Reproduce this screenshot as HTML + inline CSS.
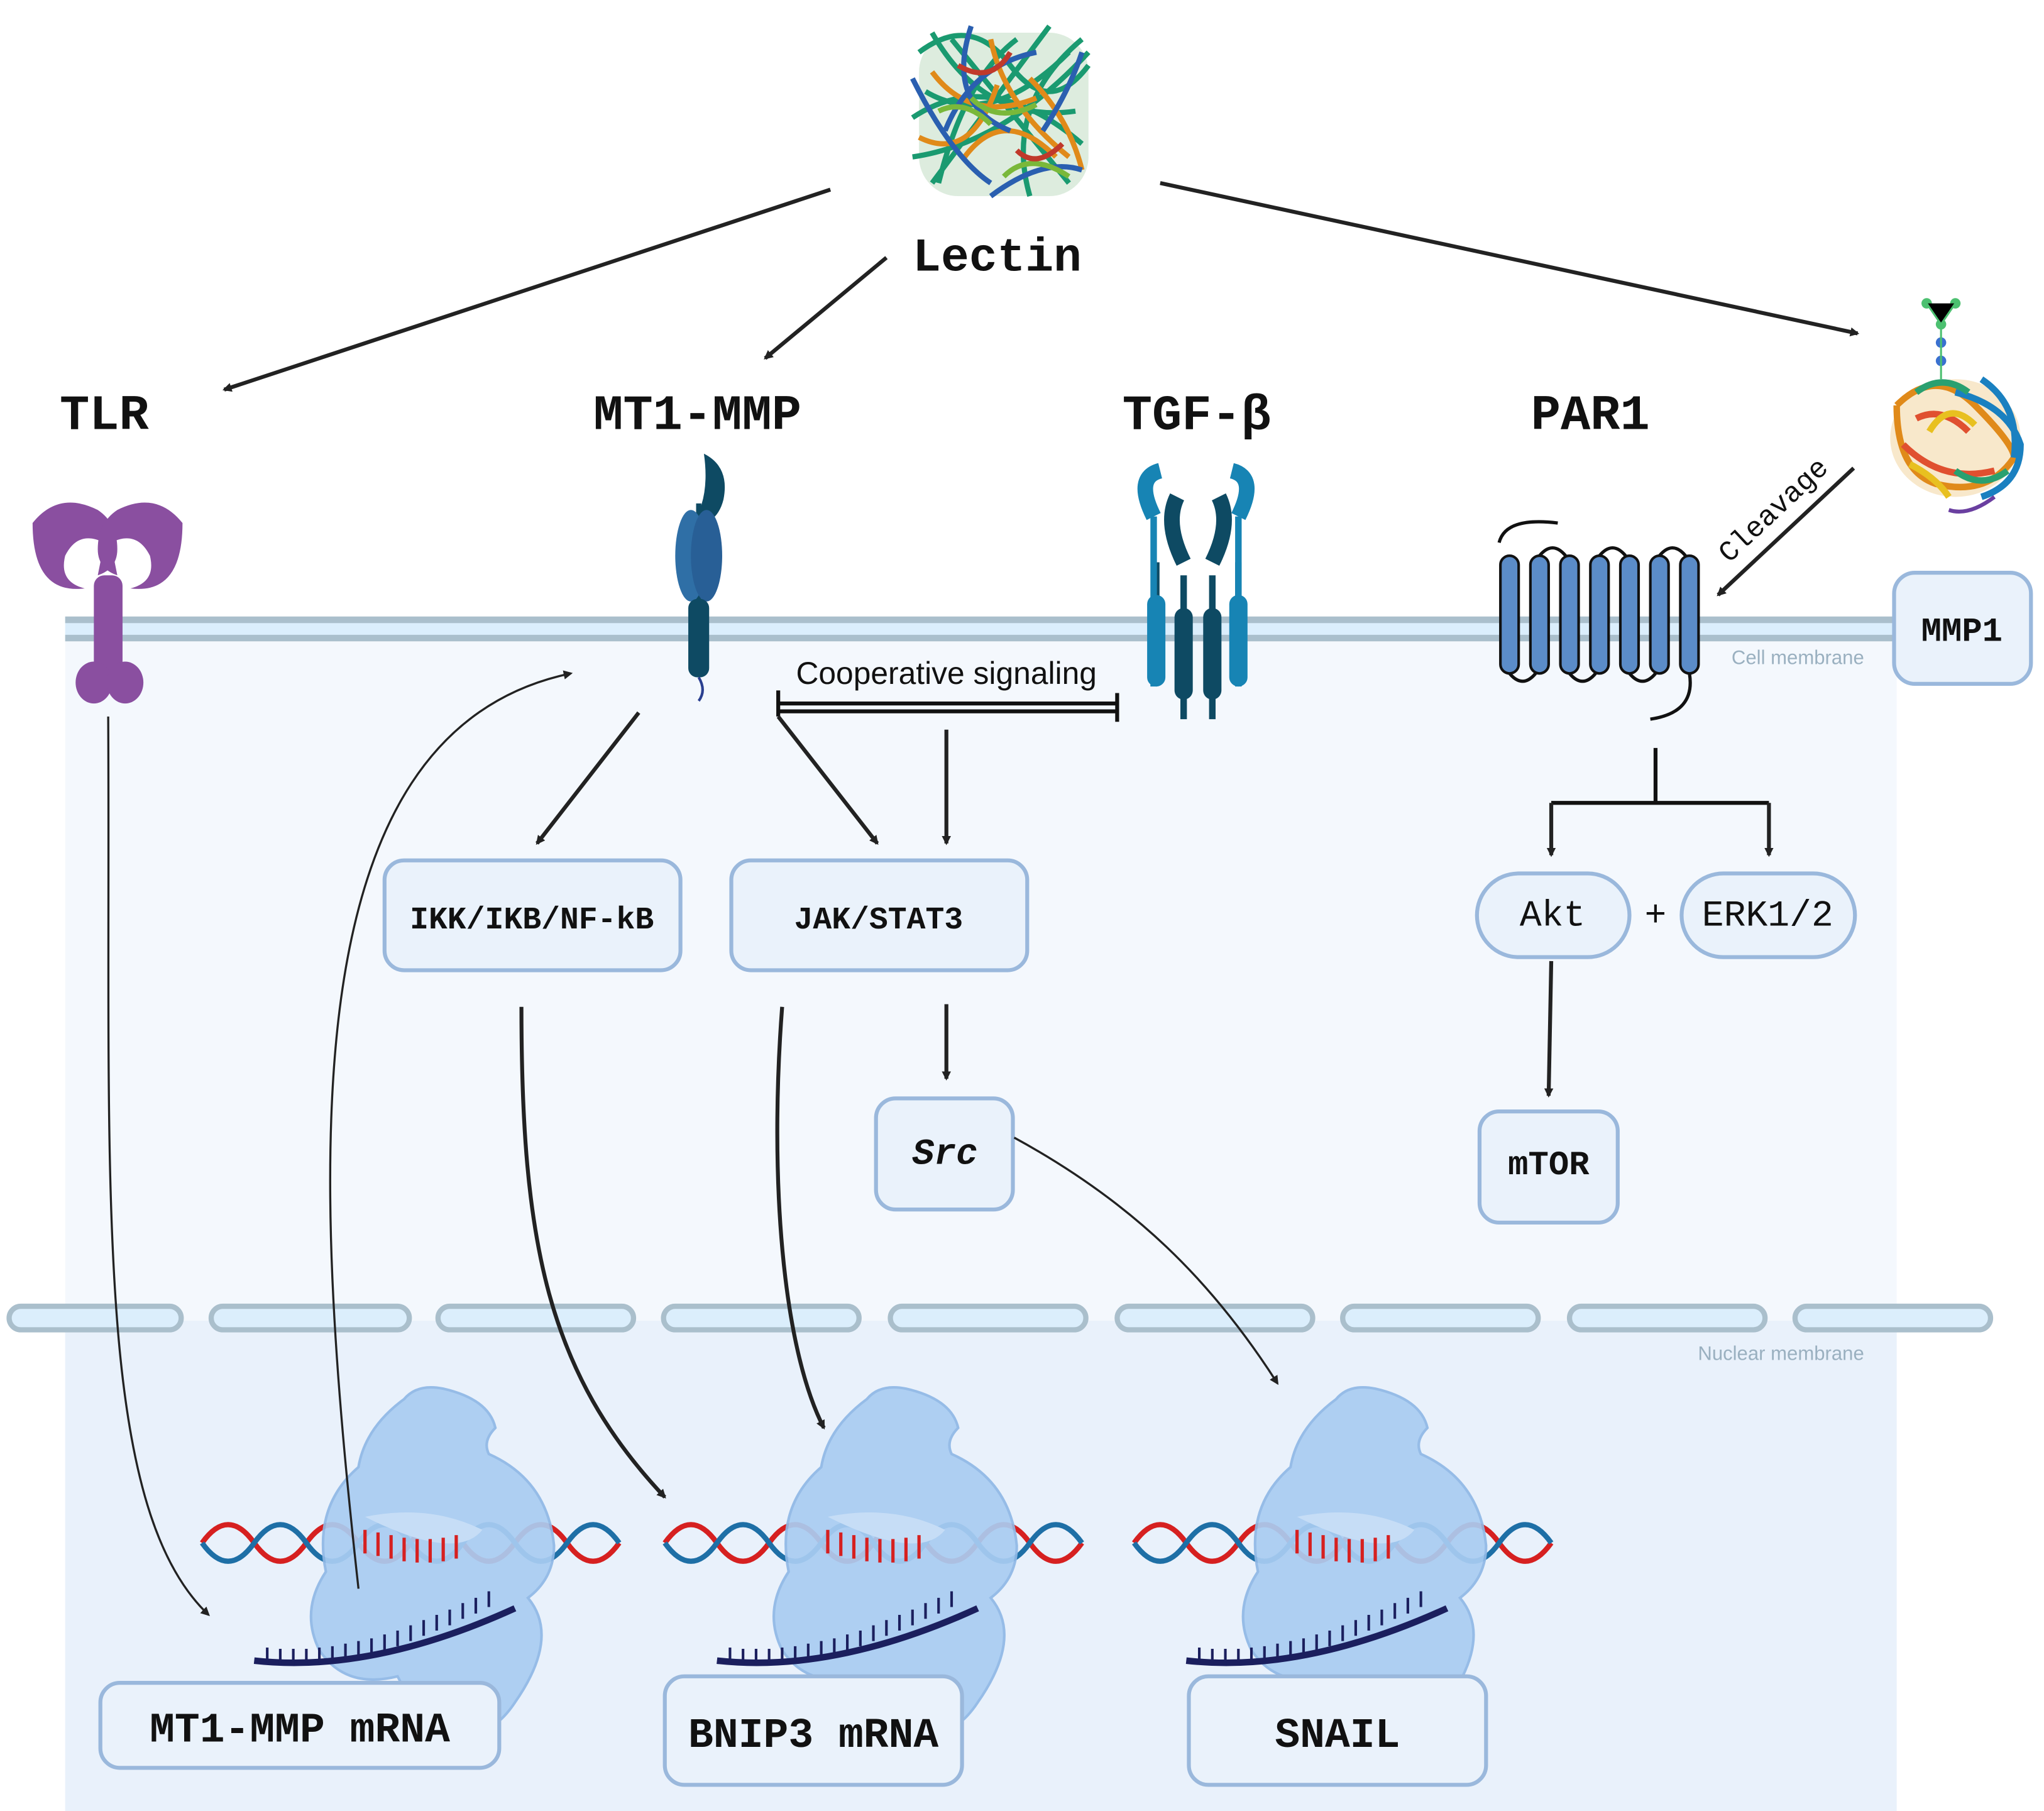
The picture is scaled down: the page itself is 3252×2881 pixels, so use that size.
<!DOCTYPE html>
<html><head><meta charset="utf-8"><style>
html,body{margin:0;padding:0;background:#fff}
svg{display:block}
.box{fill:#eaf2fb;stroke:#9ab8dc;stroke-width:3}
.bt{font-family:"Liberation Mono",monospace;font-weight:bold;fill:#111;text-anchor:middle}
.ar{stroke:#222;stroke-width:3;fill:none;marker-end:url(#ah)}
.th{stroke:#222;stroke-width:1.6;fill:none;marker-end:url(#ah)}
</style></head><body>
<svg width="3252" height="2881" viewBox="0 0 1568 1385" preserveAspectRatio="none" xmlns="http://www.w3.org/2000/svg">
<defs>
<marker id="ah" viewBox="0 0 10 10" refX="8" refY="5" markerWidth="7" markerHeight="7" markerUnits="userSpaceOnUse" orient="auto">
<path d="M0,0 L10,5 L0,10 z" fill="#222"/></marker>
<marker id="ah2" viewBox="0 0 10 10" refX="8" refY="5" markerWidth="20" markerHeight="20" markerUnits="userSpaceOnUse" orient="auto">
<path d="M0,0 L10,5 L0,10 z" fill="#222"/></marker>
<g id="ribo">
<path d="M-165,0 q20,-28 40,0 t40,0 t40,0 t40,0 t40,0 t40,0 t40,0 t40,0" stroke="#d62020" stroke-width="4" fill="none"/>
<path d="M-165,0 q20,28 40,0 t40,0 t40,0 t40,0 t40,0 t40,0 t40,0 t40,0" stroke="#1e6fa6" stroke-width="4" fill="none"/>
<path d="M-10,-110 q10,-12 30,-8 q35,8 40,30 q-10,10 -5,20 q45,20 50,70 q0,25 -20,40 q25,30 -10,80 q-20,30 -45,20 q-30,-10 -45,-40 q-40,10 -60,-20 q-15,-30 5,-60 q-10,-50 25,-80 q5,-30 35,-52z" fill="#a9cdf2" stroke="#8fb8e6" stroke-width="2" opacity="0.92"/>
<path d="M-40,-20 q50,-10 90,10 q-20,25 -90,-10z" fill="#c6ddf6"/>
<path d="M-125,90 q90,10 200,-40" stroke="#1b1f5e" stroke-width="5" fill="none"/>
<path d="M-115,92 v-12 M-105,93 v-12 M-95,93 v-12 M-85,93 v-12 M-75,92 v-12 M-65,91 v-12 M-55,89 v-12 M-45,87 v-12 M-35,85 v-12 M-25,82 v-12 M-15,79 v-12 M-5,75 v-12 M5,71 v-12 M15,67 v-12 M25,63 v-12 M35,58 v-12 M45,54 v-12 M55,49 v-12" stroke="#1b1f5e" stroke-width="2"/>
<path d="M-40,-10 v18 M-30,-8 v18 M-20,-6 v18 M-10,-4 v18 M0,-3 v18 M10,-3 v18 M20,-4 v18 M30,-6 v18" stroke="#d62020" stroke-width="2.5"/>
</g>
</defs>
<rect x="50" y="480" width="1405" height="905" fill="#f4f8fd"/>
<rect x="50" y="1010" width="1405" height="375" fill="#e9f1fb"/>
<rect x="50" y="472" width="1405" height="18" fill="#dbeefc"/>
<line x1="50" y1="474" x2="1455" y2="474" stroke="#aabfcc" stroke-width="5"/>
<line x1="50" y1="488" x2="1455" y2="488" stroke="#aabfcc" stroke-width="5"/>
<text x="1430" y="508" font-family="Liberation Sans,sans-serif" font-size="15" fill="#9ab0c0" text-anchor="end">Cell membrane</text>
<g fill="#dbeefc" stroke="#aabfcc" stroke-width="4">
<rect x="7" y="999" width="132" height="18" rx="9"/><rect x="162" y="999" width="152" height="18" rx="9"/><rect x="336" y="999" width="150" height="18" rx="9"/><rect x="509" y="999" width="150" height="18" rx="9"/><rect x="683" y="999" width="150" height="18" rx="9"/><rect x="857" y="999" width="150" height="18" rx="9"/><rect x="1030" y="999" width="150" height="18" rx="9"/><rect x="1204" y="999" width="150" height="18" rx="9"/><rect x="1377" y="999" width="150" height="18" rx="9"/>
</g>
<text x="1430" y="1040" font-family="Liberation Sans,sans-serif" font-size="15" fill="#9ab0c0" text-anchor="end">Nuclear membrane</text>
<!-- lectin -->
<rect x="705" y="25" width="130" height="125" rx="30" fill="#c7e0c8" opacity="0.6"/>
<g stroke-width="4" fill="none">
<path d="M705,40 q40,-30 70,10 t60,0 M700,90 q60,-40 130,20 M720,140 q20,-80 60,-110 M790,150 q-20,-70 40,-120 M710,70 q50,30 110,-30 M730,30 l90,110 M805,20 l-90,120 M700,120 q70,-10 135,-80 M715,25 q40,70 110,60" stroke="#1a9a70"/>
<path d="M715,55 q30,40 80,20 M740,120 q30,-40 70,0 M760,30 q10,50 60,90 M705,105 q40,20 60,-40 M790,60 q30,30 40,70" stroke="#e08a1a"/>
<path d="M725,100 q20,-50 70,-60 M700,60 q30,60 60,80 M800,100 q20,-30 30,-60 M745,20 q-20,60 30,80 M760,150 q40,-30 70,-20" stroke="#2a5fb0"/>
<path d="M745,75 q20,20 50,5 M770,135 q20,-20 50,0 M720,85 q20,-10 40,10" stroke="#7ab83a"/>
<path d="M735,50 q25,15 40,-10 M780,115 q15,15 35,-5" stroke="#c0392b"/>
</g>
<text x="765" y="207" class="bt" font-size="36">Lectin</text>
<line x1="637" y1="145" x2="172" y2="298" class="ar" marker-end="url(#ah2)"/>
<line x1="680" y1="197" x2="587" y2="274" class="ar" marker-end="url(#ah2)"/>
<line x1="890" y1="140" x2="1425" y2="255" class="ar" marker-end="url(#ah2)"/>
<text x="80" y="328" class="bt" font-size="38">TLR</text>
<text x="535" y="328" class="bt" font-size="38">MT1-MMP</text>
<text x="918" y="328" class="bt" font-size="38">TGF-β</text>
<text x="1220" y="328" class="bt" font-size="38">PAR1</text>
<g fill="#8a4fa0">
<path d="M25,400 q20,-25 50,-10 q15,10 15,30 q0,15 -15,20 l5,-25 q-20,-10 -30,10 q-5,20 15,25 q-40,5 -40,-50z"/>
<path d="M140,400 q-20,-25 -50,-10 q-15,10 -15,30 q0,15 15,20 l-5,-25 q20,-10 30,10 q5,20 -15,25 q40,5 40,-50z"/>
<rect x="72" y="440" width="22" height="80" rx="8"/>
<ellipse cx="72" cy="522" rx="14" ry="16"/><ellipse cx="96" cy="522" rx="14" ry="16"/>
</g>
<path d="M540,347 q20,10 15,35 q-5,20 -25,20 q15,-20 10,-55z" fill="#0e4a63"/>
<line x1="536" y1="385" x2="536" y2="470" stroke="#0e4a63" stroke-width="4"/>
<ellipse cx="530" cy="425" rx="12" ry="35" fill="#2f6fa6"/><ellipse cx="542" cy="425" rx="12" ry="35" fill="#285f96"/>
<rect x="528" y="458" width="16" height="60" rx="7" fill="#0e4a63"/>
<path d="M536,518 q6,10 0,18" stroke="#2a3f90" stroke-width="2" fill="none"/>
<g stroke-width="5" fill="none">
<path d="M887,430 v90 M908,440 v110 M930,440 v110 M950,430 v90" stroke="#0e4a63"/>
<path d="M885,395 v130 M950,395 v130" stroke="#1784b4"/>
<path d="M885,395 q-15,-30 5,-35 M950,395 q15,-30 -5,-35" stroke="#1784b4" stroke-width="12"/>
<path d="M908,430 q-15,-30 -5,-50 M930,430 q15,-30 5,-50" stroke="#0e4a63" stroke-width="12"/>
</g>
<rect x="880" y="455" width="14" height="70" rx="7" fill="#1784b4"/><rect x="943" y="455" width="14" height="70" rx="7" fill="#1784b4"/>
<rect x="901" y="465" width="14" height="70" rx="7" fill="#0e4a63"/><rect x="923" y="465" width="14" height="70" rx="7" fill="#0e4a63"/>
<g fill="#5b8cc8" stroke="#111" stroke-width="2">
<rect x="1151" y="425" width="14" height="90" rx="7"/><rect x="1174" y="425" width="14" height="90" rx="7"/><rect x="1197" y="425" width="14" height="90" rx="7"/><rect x="1220" y="425" width="14" height="90" rx="7"/><rect x="1243" y="425" width="14" height="90" rx="7"/><rect x="1266" y="425" width="14" height="90" rx="7"/><rect x="1289" y="425" width="14" height="90" rx="7"/>
</g>
<path d="M1150,415 q5,-20 45,-15 M1158,515 q10,12 20,0 M1204,515 q10,12 20,0 M1250,515 q10,12 20,0 M1181,425 q10,-12 20,0 M1227,425 q10,-12 20,0 M1273,425 q10,-12 20,0 M1296,515 q5,30 -30,35" stroke="#111" stroke-width="2.5" fill="none"/>
<!-- MMP1 protein -->
<ellipse cx="1500" cy="335" rx="50" ry="45" fill="#f3d9a8" opacity="0.6"/>
<g fill="none" stroke-width="5">
<path d="M1455,310 q30,-30 60,0 t30,40 q-20,30 -60,20 q-30,-10 -30,-60" stroke="#e08a1a"/>
<path d="M1500,300 q40,10 50,40 q0,30 -30,40 M1520,290 q30,20 25,60" stroke="#1a80c0"/>
<path d="M1460,340 q30,30 70,20 M1470,320 q20,-10 40,10" stroke="#e05030"/>
<path d="M1470,300 q20,-15 40,0 M1500,360 q20,15 40,0" stroke="#2aa070"/>
<path d="M1480,330 q15,-25 35,-5 M1465,355 q20,10 30,25" stroke="#e8c020"/>
<path d="M1530,380 q-20,15 -35,10" stroke="#6a3fa0" stroke-width="3"/>
</g>
<g fill="#4cc070"><circle cx="1478" cy="232" r="4"/><circle cx="1500" cy="232" r="4"/><circle cx="1489" cy="248" r="4"/><circle cx="1489" cy="262" r="4" fill="#3a70d0"/><circle cx="1489" cy="276" r="4" fill="#3a70d0"/></g>
<path d="M1478,232 L1489,248 L1500,232 M1489,248 V290" stroke="#4cc070" stroke-width="1.5"/>
<line x1="1422" y1="358" x2="1318" y2="455" class="ar" marker-end="url(#ah2)"/>
<text x="1365" y="395" font-family="Liberation Mono,monospace" font-size="22" fill="#111" transform="rotate(-43 1365 395)" text-anchor="middle">Cleavage</text>
<rect x="1453" y="438" width="105" height="85" rx="16" class="box"/>
<text x="1505" y="490" class="bt" font-size="26">MMP1</text>
<text x="726" y="523" font-family="Liberation Sans,sans-serif" font-size="24" fill="#111" text-anchor="middle">Cooperative signaling</text>
<line x1="597" y1="538" x2="857" y2="538" stroke="#111" stroke-width="3"/>
<line x1="597" y1="544" x2="857" y2="544" stroke="#111" stroke-width="3"/>
<line x1="597" y1="528" x2="597" y2="548" stroke="#111" stroke-width="3"/>
<line x1="857" y1="530" x2="857" y2="552" stroke="#111" stroke-width="3"/>
<line x1="490" y1="545" x2="412" y2="645" class="ar" marker-end="url(#ah2)"/>
<line x1="597" y1="548" x2="673" y2="645" class="ar" marker-end="url(#ah2)"/>
<line x1="726" y1="558" x2="726" y2="645" class="ar" marker-end="url(#ah2)"/>
<line x1="726" y1="768" x2="726" y2="825" class="ar" marker-end="url(#ah2)"/>
<path d="M1270,572 v42 M1190,614 h167" stroke="#111" stroke-width="3" fill="none"/>
<line x1="1190" y1="614" x2="1190" y2="654" class="ar" marker-end="url(#ah2)"/>
<line x1="1357" y1="614" x2="1357" y2="654" class="ar" marker-end="url(#ah2)"/>
<line x1="1190" y1="735" x2="1188" y2="838" class="ar" marker-end="url(#ah2)"/>
<rect x="295" y="658" width="227" height="84" rx="15" class="box"/>
<text x="408" y="710" class="bt" font-size="24">IKK/IKB/NF-kB</text>
<rect x="561" y="658" width="227" height="84" rx="15" class="box"/>
<text x="674" y="710" class="bt" font-size="24">JAK/STAT3</text>
<rect x="672" y="840" width="105" height="85" rx="15" class="box"/>
<text x="725" y="890" class="bt" font-size="28" font-style="italic">Src</text>
<rect x="1133" y="668" width="117" height="64" rx="32" class="box"/>
<text x="1191" y="708" font-family="Liberation Mono,monospace" font-size="28" text-anchor="middle" fill="#111">Akt</text>
<text x="1270" y="708" font-family="Liberation Mono,monospace" font-size="28" text-anchor="middle" fill="#111">+</text>
<rect x="1290" y="668" width="133" height="64" rx="32" class="box"/>
<text x="1356" y="708" font-family="Liberation Mono,monospace" font-size="28" text-anchor="middle" fill="#111">ERK1/2</text>
<rect x="1135" y="850" width="106" height="85" rx="15" class="box"/>
<text x="1188" y="898" class="bt" font-size="26">mTOR</text>
<use href="#ribo" x="320" y="1180"/>
<use href="#ribo" x="675" y="1180"/>
<use href="#ribo" x="1035" y="1180"/>
<path d="M83,548 C85,900 70,1150 160,1235" class="th" marker-end="url(#ah2)"/>
<path d="M275,1215 C240,900 220,560 438,515" class="th" stroke-width="1" marker-end="url(#ah2)"/>
<path d="M400,770 C400,950 420,1050 510,1145" class="ar" marker-end="url(#ah2)"/>
<path d="M600,770 C590,900 600,1030 632,1092" class="ar" marker-end="url(#ah2)"/>
<path d="M778,870 C870,920 930,980 980,1058" class="th" marker-end="url(#ah2)"/>
<rect x="77" y="1287" width="306" height="65" rx="15" class="box"/>
<text x="230" y="1332" class="bt" font-size="32">MT1-MMP mRNA</text>
<rect x="510" y="1282" width="228" height="83" rx="15" class="box"/>
<text x="624" y="1336" class="bt" font-size="32">BNIP3 mRNA</text>
<rect x="912" y="1282" width="228" height="83" rx="15" class="box"/>
<text x="1026" y="1336" class="bt" font-size="32">SNAIL</text>
</svg>
</body></html>
